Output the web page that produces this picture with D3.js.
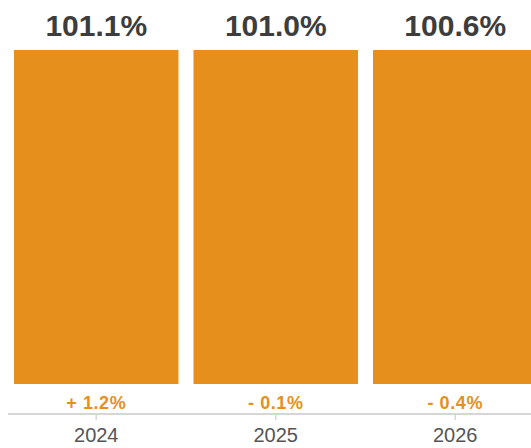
<!DOCTYPE html>
<html>
<head>
<meta charset="utf-8">
<script src="https://cdn.jsdelivr.net/npm/d3@7"></script>
<style>
  html, body { margin: 0; padding: 0; background: #fff; }
  svg { display: block; font-family: "Liberation Sans", Arial, Helvetica, sans-serif; }
</style>
</head>
<body>
<svg id="chart" width="531" height="448"></svg>
<script>
// Yearly index values and their change versus the previous year
const years = ["2024", "2025", "2026"];
const indexValues = [101.1, 101.0, 100.6];
const changeValues = [1.2, -0.1, -0.4];

const width = 531, height = 448;
const svg = d3.select("#chart");

const barTop = 50, barBottom = 384, axisY = 414;
const orange = "#e68f1d";

// Band scale wider than the viewport: the last bar runs off the right edge
const x = d3.scaleBand()
  .domain(years)
  .range([-1, 552.5])
  .paddingInner(0.0836)
  .paddingOuter(0.0836);

// Index scale tops out at 100%, values above are clamped to the full height
const y = d3.scaleLinear()
  .domain([0, 100])
  .range([barBottom, barTop])
  .clamp(true);

const data = years.map((yr, i) => ({ year: yr, value: indexValues[i], change: changeValues[i] }));

svg.append("g")
  .selectAll("rect")
  .data(data)
  .join("rect")
  .attr("x", d => x(d.year))
  .attr("y", d => y(d.value))
  .attr("width", x.bandwidth())
  .attr("height", d => barBottom - y(d.value))
  .attr("fill", orange);

// Value labels above bars
svg.append("g")
  .selectAll("text")
  .data(data)
  .join("text")
  .attr("x", d => x(d.year) + x.bandwidth() / 2)
  .attr("y", 36)
  .attr("text-anchor", "middle")
  .attr("font-size", 30)
  .attr("font-weight", "bold")
  .attr("fill", "#3d3d3d")
  .text(d => d3.format(".1f")(d.value) + "%");

// Change labels below bars
const fmtChange = d => (d >= 0 ? "+ " : "- ") + d3.format(".1f")(Math.abs(d)) + "%";
svg.append("g")
  .selectAll("text")
  .data(data)
  .join("text")
  .attr("x", d => x(d.year) + x.bandwidth() / 2)
  .attr("y", 409)
  .attr("text-anchor", "middle")
  .attr("font-size", 18)
  .attr("font-weight", "bold")
  .attr("letter-spacing", 0.6)
  .attr("fill", orange)
  .style("white-space", "pre")
  .text(d => fmtChange(d.change));

// Bottom axis
const axis = svg.append("g")
  .attr("transform", `translate(0,${axisY})`)
  .call(d3.axisBottom(x).tickSize(6).tickSizeOuter(0).tickPadding(8));
axis.select(".domain").remove();
axis.append("line")
  .attr("x1", 8).attr("x2", width)
  .attr("y1", 0).attr("y2", 0)
  .attr("stroke", "#d6d6d6")
  .attr("stroke-width", 2);
axis.selectAll(".tick line").attr("stroke", "#d6d6d6").attr("stroke-width", 1.5);
axis.selectAll(".tick text")
  .attr("font-size", 20)
  .attr("font-family", "Liberation Sans, Arial, sans-serif")
  .attr("fill", "#555");
</script>
</body>
</html>
